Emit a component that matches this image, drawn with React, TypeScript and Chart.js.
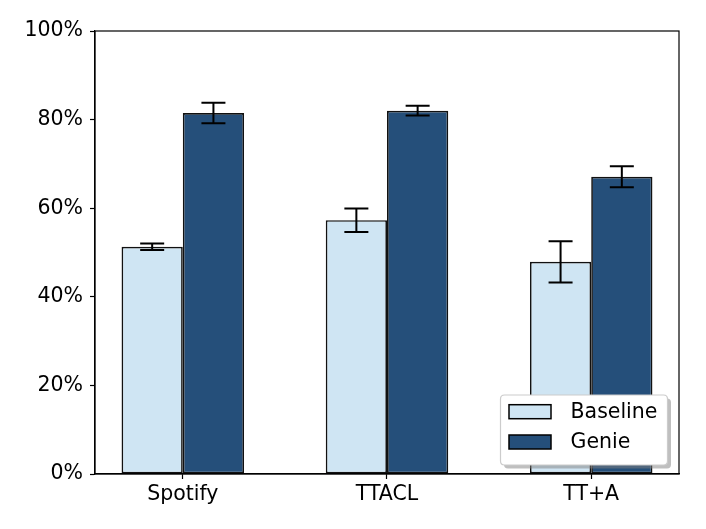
import React, { useEffect, useRef } from "react";
import { Chart, registerables } from "chart.js";

Chart.register(...registerables);

const categories = ["Spotify", "TTACL", "TT+A"];
const seriesLabels = ["Baseline", "Genie"];
const baselineValues = [51.3, 57.3, 47.9];
const baselineErrors = [0.75, 2.65, 4.65];
const genieValues = [81.5, 82.0, 67.1];
const genieErrors = [2.3, 1.1, 2.35];
const yTicks = [0, 20, 40, 60, 80, 100];

const FONT = "'DejaVu Sans', 'Liberation Sans', sans-serif";
const FONT_SIZE = 20.5;
const COLORS = ["#cfe5f3", "#254f7a"];

const errorBarPlugin = {
  id: "errorBars",
  afterDatasetsDraw(chart: any) {
    const ctx = chart.ctx;
    const yScale = chart.scales.y;
    const errs = [baselineErrors, genieErrors];
    ctx.save();
    ctx.strokeStyle = "#000";
    ctx.lineWidth = 2;
    chart.data.datasets.forEach((ds: any, di: number) => {
      const meta = chart.getDatasetMeta(di);
      meta.data.forEach((bar: any, i: number) => {
        const v = ds.data[i].y;
        const e = errs[di][i];
        const x = bar.x;
        const yTop = yScale.getPixelForValue(v + e);
        const yBot = yScale.getPixelForValue(v - e);
        const cap = 12;
        ctx.beginPath();
        ctx.moveTo(x, yTop);
        ctx.lineTo(x, yBot);
        ctx.moveTo(x - cap, yTop);
        ctx.lineTo(x + cap, yTop);
        ctx.moveTo(x - cap, yBot);
        ctx.lineTo(x + cap, yBot);
        ctx.stroke();
      });
    });
    // frame
    const a = chart.chartArea;
    ctx.lineWidth = 1.2;
    ctx.strokeStyle = "#000";
    ctx.strokeRect(a.left, a.top, a.right - a.left, a.bottom - a.top);
    ctx.restore();
  },
};

function roundRect(ctx: any, x: number, y: number, w: number, h: number, r: number) {
  ctx.beginPath();
  ctx.moveTo(x + r, y);
  ctx.lineTo(x + w - r, y);
  ctx.quadraticCurveTo(x + w, y, x + w, y + r);
  ctx.lineTo(x + w, y + h - r);
  ctx.quadraticCurveTo(x + w, y + h, x + w - r, y + h);
  ctx.lineTo(x + r, y + h);
  ctx.quadraticCurveTo(x, y + h, x, y + h - r);
  ctx.lineTo(x, y + r);
  ctx.quadraticCurveTo(x, y, x + r, y);
  ctx.closePath();
}

const legendPlugin = {
  id: "mplLegend",
  afterDraw(chart: any) {
    const ctx = chart.ctx;
    const a = chart.chartArea;
    const w = 167;
    const h = 70;
    const x = a.right - 11.5 - w;
    const y = a.bottom - 9 - h;
    ctx.save();
    // shadow
    ctx.fillStyle = "rgba(128,128,128,0.5)";
    roundRect(ctx, x + 3.5, y + 3.5, w, h, 4);
    ctx.fill();
    // box
    ctx.fillStyle = "#ffffff";
    roundRect(ctx, x, y, w, h, 4);
    ctx.fill();
    ctx.strokeStyle = "#cccccc";
    ctx.lineWidth = 1.2;
    ctx.stroke();
    const rows = [16.7, 47];
    ctx.font = `${FONT_SIZE}px ${FONT}`;
    ctx.textBaseline = "middle";
    ctx.textAlign = "left";
    chart.data.datasets.forEach((ds: any, i: number) => {
      const cy = y + rows[i];
      ctx.fillStyle = ds.backgroundColor;
      ctx.fillRect(x + 8.5, cy - 7, 42, 14);
      ctx.strokeStyle = "#000";
      ctx.lineWidth = 1.5;
      ctx.strokeRect(x + 8.5, cy - 7, 42, 14);
      ctx.fillStyle = "#000";
      ctx.fillText(ds.label, x + 70, cy + 1);
    });
    ctx.restore();
  },
};

export default function App() {
  const ref = useRef<HTMLCanvasElement>(null);
  useEffect(() => {
    if (!ref.current) return;
    const makeData = (vals: number[]) => vals.map((v, i) => ({ x: i, y: v }));
    const barStyle = {
      borderColor: "#111",
      borderWidth: 1.7,
      borderSkipped: false,
      categoryPercentage: 0.6,
      barPercentage: 1.0,
    };
    const chart = new Chart(ref.current, {
      type: "bar",
      data: {
        datasets: [
          {
            label: seriesLabels[0],
            data: makeData(baselineValues),
            backgroundColor: COLORS[0],
            ...barStyle,
          },
          {
            label: seriesLabels[1],
            data: makeData(genieValues),
            backgroundColor: COLORS[1],
            ...barStyle,
          },
        ],
      } as any,
      options: {
        animation: false,
        responsive: false,
        devicePixelRatio: 1,
        layout: { padding: { left: 0, top: 31, right: 27, bottom: 0 } },
        plugins: {
          legend: { display: false },
          tooltip: { enabled: false },
        },
        scales: {
          x: {
            type: "linear",
            offset: false,
            min: -0.43,
            max: 2.43,
            afterBuildTicks: (scale: any) => {
              scale.ticks = categories.map((_, i) => ({ value: i }));
            },
            afterFit: (scale: any) => {
              scale.height = 55;
            },
            grid: {
              display: true,
              offset: false,
              drawOnChartArea: false,
              drawTicks: true,
              tickLength: 5,
              tickColor: "#000",
              tickWidth: 1.2,
            },
            border: { display: true, color: "#000", width: 1.2 },
            ticks: {
              autoSkip: false,
              maxRotation: 0,
              padding: 3,
              color: "#000",
              font: { family: FONT, size: FONT_SIZE },
              callback: (_v: any, i: number) => categories[i],
            },
          },
          y: {
            min: 0,
            max: 100,
            afterBuildTicks: (scale: any) => {
              scale.ticks = yTicks.map((v) => ({ value: v }));
            },
            afterFit: (scale: any) => {
              scale.width = 95;
            },
            grid: {
              display: true,
              drawOnChartArea: false,
              drawTicks: true,
              tickLength: 5,
              tickColor: "#000",
              tickWidth: 1.2,
            },
            border: { display: true, color: "#000", width: 1.2 },
            ticks: {
              padding: 7,
              color: "#000",
              font: { family: FONT, size: FONT_SIZE },
              callback: (v: any) => `${v}%`,
            },
          },
        },
      } as any,
      plugins: [errorBarPlugin, legendPlugin],
    });
    return () => chart.destroy();
  }, []);
  return (
    <div style={{ position: "fixed", left: 0, top: 0, width: 706, height: 529, background: "#fff" }}>
      <canvas ref={ref} width={706} height={529} style={{ width: 706, height: 529 }} />
    </div>
  );
}
